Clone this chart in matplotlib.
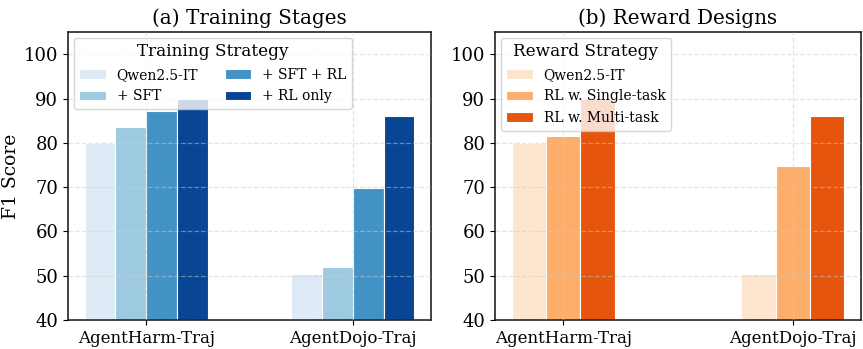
import matplotlib
matplotlib.use("Agg")
import matplotlib.pyplot as plt
import numpy as np

datasets = ["AgentHarm-Traj", "AgentDojo-Traj"]

train_labels = ["Qwen2.5-IT", "+ SFT", "+ SFT + RL", "+ RL only"]
train_values = [
    [80.0, 50.3],
    [83.5, 52.0],
    [87.2, 69.9],
    [90.0, 86.1],
]
train_colors = ["#deebf7", "#9ecae1", "#4292c6", "#084594"]

reward_labels = ["Qwen2.5-IT", "RL w. Single-task", "RL w. Multi-task"]
reward_values = [
    [80.0, 50.3],
    [81.5, 74.7],
    [90.0, 86.1],
]
reward_colors = ["#fee6ce", "#fdae6b", "#e6550d"]

plt.rcParams["font.family"] = ["DejaVu Serif"]

fig = plt.figure(figsize=(8.63, 3.49), dpi=100)
ax1 = fig.add_axes([0.0788, 0.083, 0.4206, 0.825])
ax2 = fig.add_axes([0.5736, 0.083, 0.4241, 0.825])

width = 0.15
x = np.arange(len(datasets))


def draw(ax, labels, values, colors, title, legend_title, ncol):
    n = len(labels)
    for i, (lab, vals, col) in enumerate(zip(labels, values, colors)):
        offs = (i - (n - 1) / 2) * width
        ax.bar(x + offs, vals, width, label=lab, color=col,
               edgecolor="white", linewidth=0.8, zorder=1)
    ax.set_ylim(40, 105)
    ax.set_yticks([40, 50, 60, 70, 80, 90, 100])
    ax.set_xticks(x)
    ax.set_xticklabels(datasets, fontsize=12)
    ax.tick_params(axis="y", labelsize=13)
    ax.grid(True, linestyle="--", color="#cccccc", alpha=0.5, linewidth=0.9, zorder=2)
    ax.set_axisbelow(False)
    ax.set_title(title, fontsize=14.3, pad=6)
    for s in ax.spines.values():
        s.set_linewidth(1.2)
        s.set_color("#222222")
    leg = ax.legend(title=legend_title, ncol=ncol, loc="upper left",
                    fontsize=10, title_fontsize=12.2, framealpha=0.8,
                    columnspacing=1.9, handlelength=1.9, handletextpad=0.8,
                    borderaxespad=0.4, labelspacing=0.55)
    leg.set_zorder(5)


draw(ax1, train_labels, train_values, train_colors,
     "(a) Training Stages", "Training Strategy", 2)
draw(ax2, reward_labels, reward_values, reward_colors,
     "(b) Reward Designs", "Reward Strategy", 1)
ax1.set_ylabel("F1 Score", fontsize=13.5)
ax1.yaxis.set_label_coords(-0.132, 0.5)

fig.savefig("out.png", dpi=100)
